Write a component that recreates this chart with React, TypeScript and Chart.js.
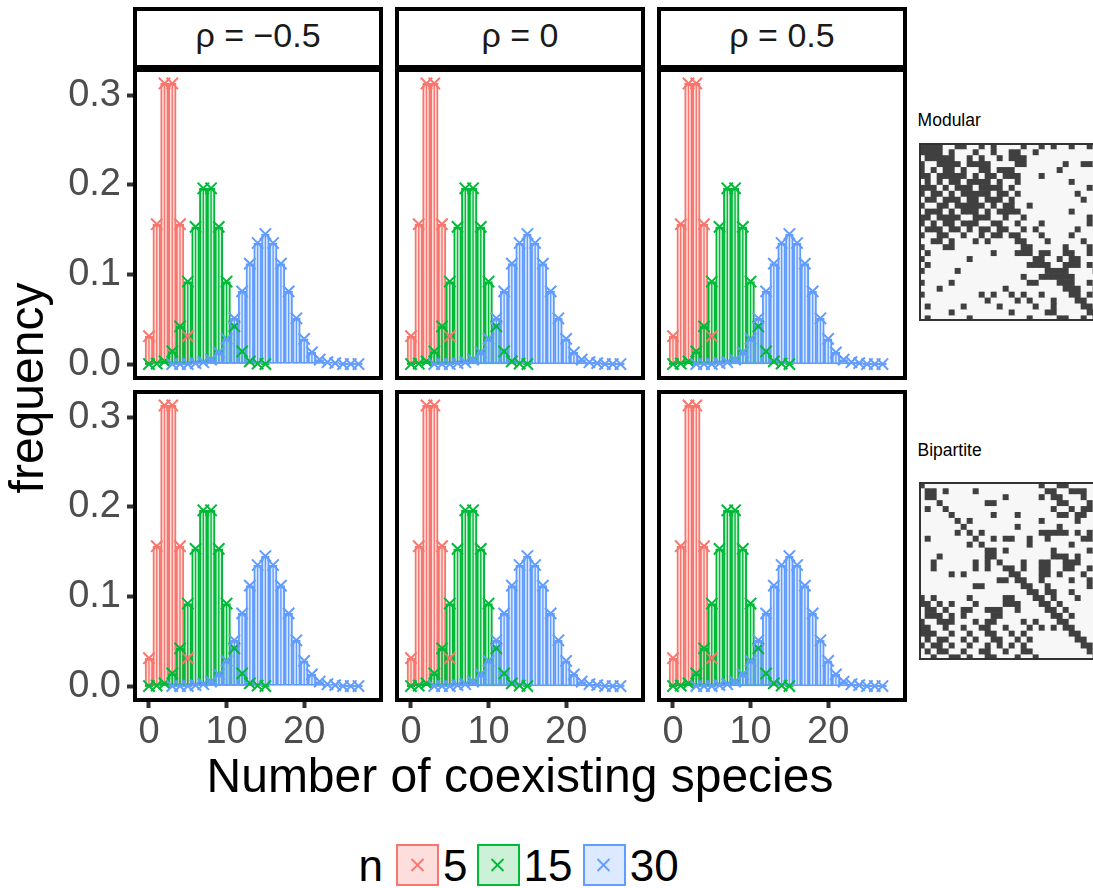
import { useEffect, useRef } from "react";
import { Chart, registerables } from "chart.js";

Chart.register(...registerables);

const FONT = '"Liberation Sans", Arial, Helvetica, sans-serif';

// Frequency of the number of coexisting species, per species-pool size n
const richness5 = [0, 1, 2, 3, 4, 5];
const freq5 = [0.031, 0.156, 0.313, 0.313, 0.156, 0.031];

const richness15 = [0, 1, 2, 3, 4, 5, 6, 7, 8, 9, 10, 11, 12, 13, 14, 15];
const freq15 = [0.0, 0.0005, 0.003, 0.014, 0.042, 0.092, 0.153, 0.196, 0.196, 0.153, 0.092, 0.042, 0.014, 0.003, 0.0005, 0.0];

const richness30 = [3, 4, 5, 6, 7, 8, 9, 10, 11, 12, 13, 14, 15, 16, 17, 18, 19, 20, 21, 22, 23, 24, 25, 26, 27];
const freq30 = [0.0, 0.0, 0.0, 0.001, 0.002, 0.005, 0.013, 0.028, 0.051, 0.081, 0.112, 0.135, 0.145, 0.135, 0.112, 0.081, 0.051, 0.028, 0.013, 0.005, 0.002, 0.001, 0.0, 0.0, 0.0];

const poolSizes = ["5", "15", "30"];
const lineColors = ["#F8766D", "#00BA38", "#619CFF"];
const fillColors = ["rgba(248,118,109,0.24)", "rgba(0,186,56,0.2)", "rgba(97,156,255,0.22)"];

const rhoLabels = ["ρ = −0.5", "ρ = 0", "ρ = 0.5"];
const yTickValues = [0, 0.1, 0.2, 0.3];
const xTickValues = [0, 10, 20];

// Interaction matrices: dark cell columns for each row (row 0 at the top)
const matrixColumns = [0, 1, 2, 3, 4, 5, 6, 7, 8, 9, 10, 11, 12, 13, 14, 15, 16, 17, 18, 19, 20, 21, 22, 23, 24, 25, 26, 27, 28, 29];

const modularCells: number[][] = [
  [0, 1, 2, 3, 6, 7, 10, 12, 17, 20, 22, 25, 28],
  [0, 1, 2, 3, 5, 9, 12, 15, 16, 19],
  [1, 2, 3, 4, 5, 8, 10, 13, 15, 16, 17],
  [0, 3, 4, 5, 6, 8, 9, 10, 11, 16, 17, 24, 27, 28],
  [0, 2, 4, 5, 7, 10, 11, 13, 14, 15, 23],
  [0, 1, 3, 4, 5, 6, 7, 9, 11, 12, 14, 15, 16, 20],
  [1, 3, 5, 6, 8, 9, 10, 11, 13, 16, 25],
  [0, 1, 2, 4, 6, 7, 8, 10, 11, 12, 13, 15, 28],
  [0, 2, 3, 5, 7, 8, 9, 10, 11, 13, 14, 16, 26],
  [1, 2, 4, 5, 6, 8, 9, 11, 12, 13, 15, 27],
  [0, 3, 4, 6, 7, 8, 9, 10, 12, 14, 15, 18],
  [1, 2, 3, 5, 7, 8, 9, 11, 13, 14, 15, 16, 25],
  [0, 1, 3, 4, 5, 6, 9, 10, 11, 14, 17, 28],
  [0, 2, 4, 5, 7, 8, 9, 12, 13, 16, 20, 28],
  [1, 2, 3, 5, 6, 8, 10, 11, 13, 14, 17, 19, 26],
  [0, 3, 4, 7, 10, 12, 13, 15, 16, 20, 25],
  [2, 3, 5, 9, 11, 16, 17, 21, 27],
  [0, 4, 5, 17, 18, 24, 28],
  [1, 12, 16, 17, 18, 20, 21, 24, 25, 28],
  [0, 8, 19, 20, 23, 25, 26],
  [1, 18, 19, 20, 21, 24, 25, 26, 28],
  [0, 6, 21, 22, 23, 24, 29],
  [17, 20, 21, 22, 23, 24, 25],
  [0, 5, 18, 19, 23, 24, 25, 28],
  [3, 14, 24, 25, 26, 29],
  [0, 10, 12, 15, 17, 20, 25, 26, 28],
  [11, 16, 18, 22, 26, 27],
  [1, 7, 13, 19, 22, 27, 28],
  [5, 15, 21, 22, 28, 29],
  [1, 8, 18, 23, 24, 27, 29],
];

const bipartiteCells: number[][] = [
  [0, 20, 23, 24],
  [1, 2, 4, 9, 21, 22, 25, 26, 27],
  [1, 2, 14, 20, 22, 23, 27],
  [3, 11, 12, 23, 24, 28],
  [1, 4, 22, 25, 27, 28],
  [5, 12, 16, 23, 24, 26, 27],
  [6, 8, 20, 26],
  [7, 16, 23],
  [6, 8, 10, 20, 21, 22, 23, 24, 26, 28],
  [1, 9, 12, 14, 15, 18, 21, 27, 28],
  [8, 10, 18, 25],
  [11, 12, 14, 22, 28],
  [3, 11, 12, 22, 23, 24, 26],
  [2, 9, 11, 13, 17, 20, 21, 24, 25, 26],
  [2, 9, 11, 14, 15, 17, 20, 21, 24, 25, 28],
  [5, 7, 15, 16, 20, 21, 23, 27],
  [13, 14, 16, 17, 20, 25, 28],
  [9, 10, 17, 18, 21, 28],
  [18, 19, 21, 22, 25],
  [0, 2, 8, 14, 15, 19, 20, 22, 26],
  [0, 1, 3, 5, 9, 14, 15, 16, 20, 21, 23],
  [1, 2, 4, 7, 8, 11, 12, 13, 16, 21, 22, 24],
  [1, 2, 3, 5, 7, 12, 13, 22, 23, 25],
  [0, 3, 4, 5, 9, 11, 12, 17, 19, 23, 24],
  [0, 1, 4, 7, 10, 11, 14, 18, 20, 22, 24, 25],
  [0, 1, 2, 5, 8, 11, 12, 15, 17, 25, 26],
  [1, 3, 4, 7, 9, 12, 13, 16, 18, 26, 27],
  [0, 2, 3, 5, 8, 11, 13, 15, 17, 27, 28],
  [1, 3, 4, 7, 10, 11, 14, 17, 18, 28],
  [2, 5, 6, 8, 11, 12, 16, 19, 29],
];

// ---- layout ----
const AREA_LEFT = [135, 397, 659];
const AREA_TOP = [70, 392];
const AREA_W = 246;
const AREA_H = 308;
const PAD = 10;
const X_AXIS_H = 62;
const X_MIN = -1.8;
const X_MAX = 29.9;
const Y_MIN = -0.0156;
const Y_MAX = 0.328;
const TICK_FONT = 38;

const framePlugin = {
  id: "panelFrame",
  afterDraw(chart: any) {
    const { ctx, chartArea } = chart;
    const { left, top, right, bottom } = chartArea;
    ctx.save();
    ctx.strokeStyle = "#000000";
    ctx.lineWidth = 4;
    ctx.strokeRect(left, top, right - left, bottom - top);
    ctx.restore();
  },
};

const series = [
  { x: richness5, y: freq5 },
  { x: richness15, y: freq15 },
  { x: richness30, y: freq30 },
];

function Panel({ row, col }: { row: number; col: number }) {
  const ref = useRef<HTMLCanvasElement>(null);
  const showY = col === 0;
  const showX = row === 1;
  const left = showY ? 0 : AREA_LEFT[col] - PAD;
  const width = AREA_LEFT[col] + AREA_W + PAD - left;
  const top = AREA_TOP[row] - PAD;
  const height = PAD + AREA_H + (showX ? X_AXIS_H : PAD);

  useEffect(() => {
    const datasets: any[] = [];
    series.forEach((s, i) => {
      const pts = s.x.map((x, j) => ({ x, y: s.y[j] }));
      // outlined bar with translucent fill
      datasets.push({
        type: "bar",
        data: pts,
        backgroundColor: fillColors[i],
        borderColor: lineColors[i],
        borderWidth: 1.3,
        borderSkipped: false,
        barPercentage: 1,
        categoryPercentage: 1,
        grouped: false,
        minBarLength: 2,
        order: 40 - 2 * i,
      });
      // thin centre line of each bar
      datasets.push({
        type: "bar",
        data: pts,
        backgroundColor: lineColors[i],
        borderWidth: 0,
        barPercentage: 0.18,
        categoryPercentage: 1,
        grouped: false,
        minBarLength: 2,
        order: 39 - 2 * i,
      });
      // x-shaped point markers
      datasets.push({
        type: "line",
        data: pts,
        showLine: false,
        pointStyle: "crossRot",
        pointRadius: 8,
        pointBorderWidth: 2,
        pointBorderColor: lineColors[i],
        pointBackgroundColor: lineColors[i],
        borderColor: lineColors[i],
        order: 10 - i,
      });
    });

    const chart = new Chart(ref.current as HTMLCanvasElement, {
      type: "bar",
      data: { datasets },
      options: {
        responsive: false,
        animation: false,
        devicePixelRatio: 1,
        events: [],
        layout: {
          padding: {
            left: showY ? 0 : PAD,
            right: PAD,
            top: PAD,
            bottom: showX ? 0 : PAD,
          },
        },
        plugins: { legend: { display: false }, tooltip: { enabled: false } },
        scales: {
          x: {
            type: "linear",
            min: X_MIN,
            max: X_MAX,
            offset: false,
            display: showX,
            afterBuildTicks: (axis: any) => {
              axis.ticks = xTickValues.map((value) => ({ value }));
            },
            afterFit: (axis: any) => {
              axis.paddingLeft = 0;
              axis.paddingRight = 0;
              if (showX) axis.height = X_AXIS_H;
            },
            grid: {
              offset: false,
              drawOnChartArea: false,
              drawTicks: true,
              tickLength: 8,
              tickWidth: 4,
              tickColor: "#333333",
            },
            border: { display: false },
            ticks: {
              autoSkip: false,
              maxRotation: 0,
              minRotation: 0,
              padding: 2,
              color: "#4D4D4D",
              font: { family: FONT, size: TICK_FONT },
              callback: (v: any) => String(v),
            },
          },
          y: {
            type: "linear",
            min: Y_MIN,
            max: Y_MAX,
            display: showY,
            afterBuildTicks: (axis: any) => {
              axis.ticks = yTickValues.map((value) => ({ value }));
            },
            afterFit: (axis: any) => {
              axis.paddingTop = 0;
              axis.paddingBottom = 0;
              if (showY) axis.width = AREA_LEFT[0];
            },
            grid: {
              drawOnChartArea: false,
              drawTicks: true,
              tickLength: 8,
              tickWidth: 4,
              tickColor: "#333333",
            },
            border: { display: false },
            ticks: {
              autoSkip: false,
              padding: 6,
              color: "#4D4D4D",
              font: { family: FONT, size: TICK_FONT },
              callback: (v: any) => Number(v).toFixed(1),
            },
          },
        },
      } as any,
      plugins: [framePlugin],
    });
    return () => chart.destroy();
  }, []);

  return (
    <canvas
      ref={ref}
      width={width}
      height={height}
      style={{ position: "absolute", left, top, width, height }}
    />
  );
}

const matrixFrame = {
  id: "matrixFrame",
  afterDraw(chart: any) {
    const { ctx, chartArea } = chart;
    const { left, top, right, bottom } = chartArea;
    ctx.save();
    ctx.strokeStyle = "#333333";
    ctx.lineWidth = 2;
    ctx.strokeRect(left + 1, top + 1, right - left - 2, bottom - top - 2);
    ctx.restore();
  },
};

function Matrix({ cells, left, top }: { cells: number[][]; left: number; top: number }) {
  const ref = useRef<HTMLCanvasElement>(null);
  const width = 180;
  const height = 178;
  useEffect(() => {
    const datasets = cells.map((dark, r) => ({
      data: matrixColumns.map(() => [r, r + 1]),
      backgroundColor: matrixColumns.map((c) => (dark.includes(c) ? "#404040" : "#F7F7F7")),
      borderWidth: 0,
      barPercentage: 1,
      categoryPercentage: 1,
      grouped: false,
    }));
    const chart = new Chart(ref.current as HTMLCanvasElement, {
      type: "bar",
      data: { labels: matrixColumns.map(String), datasets },
      options: {
        responsive: false,
        animation: false,
        devicePixelRatio: 1,
        events: [],
        layout: { padding: 0 },
        plugins: { legend: { display: false }, tooltip: { enabled: false } },
        scales: {
          x: { display: false },
          y: { display: false, min: 0, max: 30, reverse: true },
        },
      } as any,
      plugins: [matrixFrame],
    });
    return () => chart.destroy();
  }, []);
  return (
    <canvas
      ref={ref}
      width={width}
      height={height}
      style={{ position: "absolute", left, top, width, height }}
    />
  );
}

// place text so that its baseline lands at a given y (line-height = font size)
const topForBaseline = (baseline: number, size: number) => baseline - 0.8465 * size;

function XMark({ color }: { color: string }) {
  return (
    <svg width={43} height={42} style={{ position: "absolute", left: 0, top: 0 }}>
      <line x1={15.5} y1={15} x2={27.5} y2={27} stroke={color} strokeWidth={1.8} />
      <line x1={27.5} y1={15} x2={15.5} y2={27} stroke={color} strokeWidth={1.8} />
    </svg>
  );
}

const legendBoxLeft = [396, 476.5, 582.5];
const legendTextLeft = [443, 523.5, 629.7];

export default function App() {
  const legendSize = 44;
  const insetSize = 17.5;
  return (
    <div
      style={{
        position: "absolute",
        left: 0,
        top: 0,
        width: 1093,
        height: 888,
        overflow: "hidden",
        background: "#ffffff",
        fontFamily: FONT,
      }}
    >
      {rhoLabels.map((label, c) => (
        <div key={"strip" + c}>
          <div
            style={{
              position: "absolute",
              left: AREA_LEFT[c] - 2,
              top: 7,
              width: AREA_W + 4,
              height: 62,
              border: "4px solid #000",
              boxSizing: "border-box",
              background: "#fff",
            }}
          />
          <div
            style={{
              position: "absolute",
              left: AREA_LEFT[c],
              top: 35 - 0.4885 * 34,
              width: AREA_W,
              fontSize: 34,
              lineHeight: "34px",
              textAlign: "center",
              color: "#1A1A1A",
              whiteSpace: "nowrap",
            }}
          >
            {label}
          </div>
        </div>
      ))}

      {[0, 1].map((r) => [0, 1, 2].map((c) => <Panel key={`p${r}${c}`} row={r} col={c} />))}

      {/* axis titles */}
      <div
        style={{
          position: "absolute",
          left: 0,
          width: 1040,
          top: topForBaseline(793, 48),
          fontSize: 48,
          lineHeight: "48px",
          textAlign: "center",
          color: "#000",
          whiteSpace: "nowrap",
        }}
      >
        Number of coexisting species
      </div>
      <div
        style={{
          position: "absolute",
          left: 27.4 - 150,
          top: 387.5 - 24,
          width: 300,
          height: 48,
          fontSize: 48,
          lineHeight: "48px",
          textAlign: "center",
          color: "#000",
          transform: "rotate(-90deg)",
          transformOrigin: "50% 50%",
          whiteSpace: "nowrap",
        }}
      >
        frequency
      </div>

      {/* legend */}
      <div
        style={{
          position: "absolute",
          left: 358.6,
          top: topForBaseline(881.7, legendSize),
          fontSize: legendSize,
          lineHeight: `${legendSize}px`,
          color: "#000",
        }}
      >
        n
      </div>
      {poolSizes.map((label, i) => (
        <div key={"leg" + i}>
          <div
            style={{
              position: "absolute",
              left: legendBoxLeft[i],
              top: 844,
              width: 43,
              height: 42,
              border: `2.5px solid ${lineColors[i]}`,
              boxSizing: "border-box",
              background: fillColors[i],
            }}
          >
            <div style={{ position: "absolute", left: -2.5, top: -2.5 }}>
              <XMark color={lineColors[i]} />
            </div>
          </div>
          <div
            style={{
              position: "absolute",
              left: legendTextLeft[i],
              top: topForBaseline(881.7, legendSize),
              fontSize: legendSize,
              lineHeight: `${legendSize}px`,
              color: "#000",
            }}
          >
            {label}
          </div>
        </div>
      ))}

      {/* network structure insets */}
      <div
        style={{
          position: "absolute",
          left: 917.6,
          top: topForBaseline(127.3, insetSize),
          fontSize: insetSize,
          lineHeight: `${insetSize}px`,
          color: "#000",
        }}
      >
        Modular
      </div>
      <Matrix cells={modularCells} left={919} top={143} />
      <div
        style={{
          position: "absolute",
          left: 917.5,
          top: topForBaseline(456.7, insetSize),
          fontSize: insetSize,
          lineHeight: `${insetSize}px`,
          color: "#000",
        }}
      >
        Bipartite
      </div>
      <Matrix cells={bipartiteCells} left={919} top={482} />
    </div>
  );
}
